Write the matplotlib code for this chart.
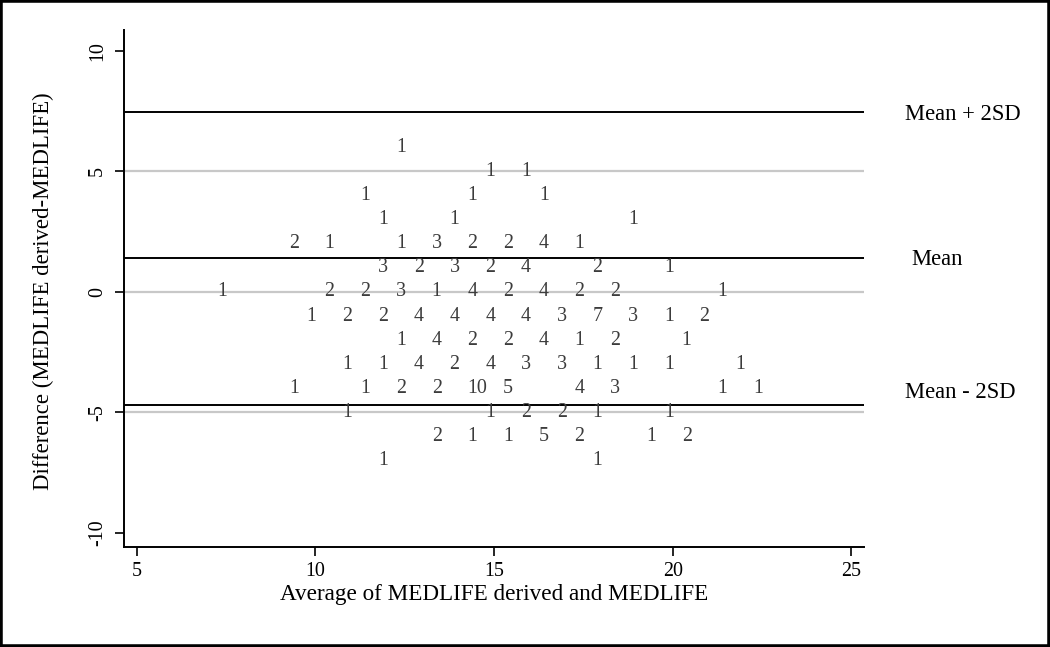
import matplotlib
matplotlib.use("Agg")
import matplotlib.pyplot as plt
from matplotlib.patches import Rectangle

plt.rcParams['font.family'] = ['Liberation Serif', 'DejaVu Serif']
plt.rcParams['axes.unicode_minus'] = False

# ---- data ----
diffs = [6, 5, 4, 3, 2, 1, 0, -1, -2, -3, -4, -5, -6, -7]
avgs_by_row = [
    [12],
    [14.5, 15.5],
    [11, 14, 16],
    [11.5, 13.5, 18.5],
    [9, 10, 12, 13, 14, 15, 16, 17],
    [11.5, 12.5, 13.5, 14.5, 15.5, 17.5, 19.5],
    [7, 10, 11, 12, 13, 14, 15, 16, 17, 18, 21],
    [9.5, 10.5, 11.5, 12.5, 13.5, 14.5, 15.5, 16.5, 17.5, 18.5, 19.5, 20.5],
    [12, 13, 14, 15, 16, 17, 18, 20],
    [10.5, 11.5, 12.5, 13.5, 14.5, 15.5, 16.5, 17.5, 18.5, 19.5, 21.5],
    [9, 11, 12, 13, 14, 15, 17, 18, 21, 22],
    [10.5, 14.5, 15.5, 16.5, 17.5, 19.5],
    [13, 14, 15, 16, 17, 19, 20],
    [11.5, 17.5],
]
counts_by_row = [
    [1],
    [1, 1],
    [1, 1, 1],
    [1, 1, 1],
    [2, 1, 1, 3, 2, 2, 4, 1],
    [3, 2, 3, 2, 4, 2, 1],
    [1, 2, 2, 3, 1, 4, 2, 4, 2, 2, 1],
    [1, 2, 2, 4, 4, 4, 4, 3, 7, 3, 1, 2],
    [1, 4, 2, 2, 4, 1, 2, 1],
    [1, 1, 4, 2, 4, 3, 3, 1, 1, 1, 1],
    [1, 1, 2, 2, 10, 5, 4, 3, 1, 1],
    [1, 1, 2, 2, 1, 1],
    [2, 1, 1, 5, 2, 1, 2],
    [1, 1],
]
mean_diff = 1.39
two_sd = 6.06
ref_labels = ["Mean + 2SD", "Mean", "Mean - 2SD"]
grid_y = [-5, 0, 5]
x_ticks = [5, 10, 15, 20, 25]
y_ticks = [-10, -5, 0, 5, 10]
x_label = "Average of MEDLIFE derived and MEDLIFE"
y_label = "Difference (MEDLIFE derived-MEDLIFE)"

# ---- figure ----
fig = plt.figure(figsize=(10.5, 6.47), dpi=100)
ax = fig.add_axes([0.118, 0.1546, 0.705, 0.799])
ax.set_xlim(4.636, 25.36)
ax.set_ylim(-10.58, 10.87)

for g in grid_y:
    ax.axhline(g, color='#c8c8c8', lw=1.6, zorder=1)

ref_values = [mean_diff + two_sd, mean_diff, mean_diff - two_sd]
for v in ref_values:
    ax.axhline(v, color='black', lw=1.4, zorder=2)

label_offsets = [(29.5, -1.2), (34, -0.8), (29.5, 8.5)]
for v, lab, off in zip(ref_values, ref_labels, label_offsets):
    ax.annotate(lab, xy=(1.0, v), xycoords=('axes fraction', 'data'),
                xytext=off, textcoords='offset points', ha='left', va='center',
                fontsize=16.3, color='black', annotation_clip=False)

for d, avgs, cnts in zip(diffs, avgs_by_row, counts_by_row):
    for a, c in zip(avgs, cnts):
        ax.annotate(str(c), xy=(a, d), xytext=(6.5, 0), textcoords='offset points',
                    ha='left', va='center', fontsize=14.4, color='#3c3c3c', zorder=3)

ax.set_xticks(x_ticks)
ax.set_yticks(y_ticks)
ax.spines['top'].set_visible(False)
ax.spines['right'].set_visible(False)
for s in ['left', 'bottom']:
    ax.spines[s].set_linewidth(1.4)
ax.tick_params(axis='both', direction='out', length=6.3, width=1.2, colors='black',
               labelsize=14.4)
ax.tick_params(axis='y', labelrotation=90, pad=6)
ax.tick_params(axis='x', pad=4.5)
for t in ax.get_yticklabels():
    t.set_va('center')
ax.set_xlabel(x_label, fontsize=16.7, labelpad=2)
ax.set_ylabel(y_label, fontsize=16.4)
ax.yaxis.set_label_coords(-0.0946, 0.495)

fig.add_artist(Rectangle((0, 0), 1, 1, transform=fig.transFigure, fill=False,
                         edgecolor='black', linewidth=4))

fig.savefig("out.png", dpi=100)
